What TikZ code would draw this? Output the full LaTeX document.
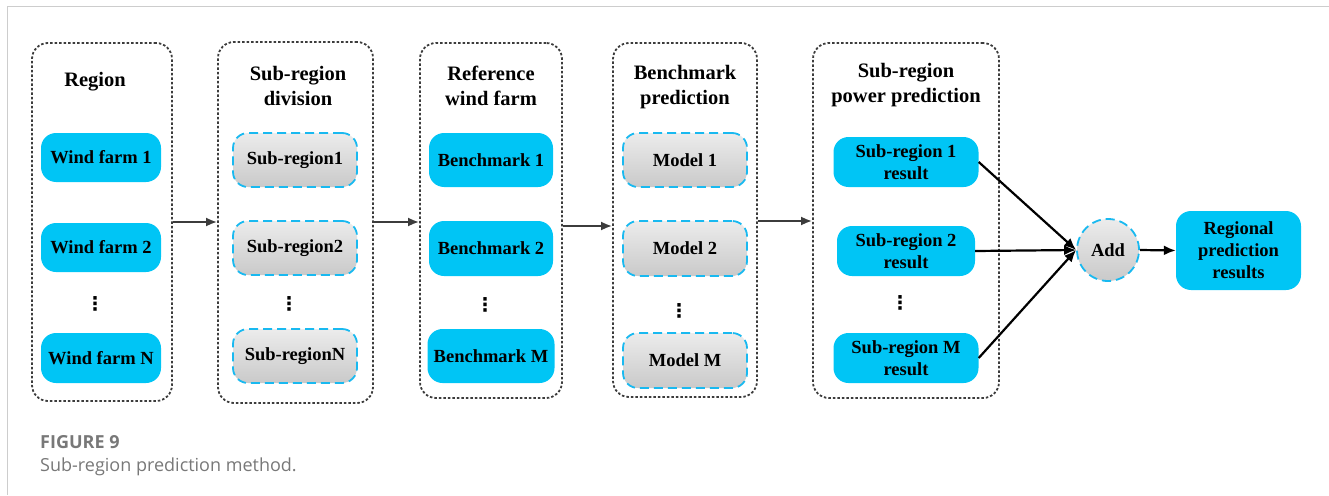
\documentclass[tikz,border=0pt]{standalone}
\usepackage{fontspec}
\setmainfont{Liberation Serif}
\newfontfamily\capfont{Open Sans}
\newfontfamily\symfont{DejaVu Sans}
\usetikzlibrary{arrows.meta}
\definecolor{boxcyan}{RGB}{0,197,245}
\definecolor{edgecyan}{RGB}{25,185,240}
\definecolor{framegray}{RGB}{205,205,205}
\definecolor{capgray}{RGB}{120,120,120}
\definecolor{dotgray}{RGB}{60,60,60}

\begin{document}
\begin{tikzpicture}
[every node/.style={inner sep=0pt, align=center},
 group/.style={draw=dotgray, line width=1.8pt, dash pattern=on 2.5pt off 2pt, rounded corners=16pt},
 title/.style={font=\fontsize{20.5}{25}\selectfont\bfseries},
 bluebox/.style={fill=boxcyan, rounded corners=15pt, font=\fontsize{18.5}{22}\selectfont\bfseries},
 graybox/.style={top color=gray!15, bottom color=gray!42, draw=edgecyan, line width=1.8pt, dash pattern=on 9pt off 5pt, rounded corners=15pt, font=\fontsize{18.5}{22}\selectfont\bfseries},
 dots/.style={font=\symfont\fontsize{19}{19}\selectfont\bfseries},
 flow/.style={draw=dotgray, line width=2pt, -{Latex[length=11pt,width=9pt]}},
 sum/.style={draw=black, line width=2.2pt, -{Latex[length=12pt,width=10pt]}}]
\useasboundingbox (0pt,0pt) rectangle (1329pt,-495pt);
\draw [color=framegray, line width=1pt] (1329pt,-7pt) -- (7pt,-7pt) -- (7pt,-495pt);
% groups
\node (g1) [group, minimum width=140pt, minimum height=358pt] at (102pt, -222pt) {};
\node (g2) [group, minimum width=155pt, minimum height=361pt] at (295.5pt, -222.5pt) {};
\node (g3) [group, minimum width=142pt, minimum height=355pt] at (491pt, -220.5pt) {};
\node (g4) [group, minimum width=144pt, minimum height=354pt] at (685pt, -220pt) {};
\node (g5) [group, minimum width=186pt, minimum height=355pt] at (906pt, -220.5pt) {};
\node (t1) [title] at (95pt, -82pt) {Region};
\node (t2) [title] at (298pt, -86pt) {Sub-region\\division};
\node (t3) [title] at (491pt, -86pt) {Reference\\wind farm};
\node (t4) [title] at (685pt, -87pt) {Benchmark\\prediction};
\node (t5) [title] at (906pt, -85pt) {Sub-region\\power prediction};
% region
\node (w1) [bluebox, minimum width=120pt, minimum height=49pt] at (101pt, -157.5pt) {Wind farm 1};
\node (w2) [bluebox, minimum width=120pt, minimum height=49pt] at (101pt, -247.5pt) {Wind farm 2};
\node (d1) [dots] at (95pt, -304pt) {⋮};
\node (w3) [bluebox, minimum width=120pt, minimum height=50pt] at (101pt, -358pt) {Wind farm N};
% sub-regions
\node (s1) [graybox, minimum width=124pt, minimum height=54pt] at (295pt, -160pt) {Sub-region1};
\node (s2) [graybox, minimum width=124pt, minimum height=54pt] at (295pt, -248pt) {Sub-region2};
\node (d2) [dots] at (289pt, -304pt) {⋮};
\node (s3) [graybox, minimum width=124pt, minimum height=54pt] at (295pt, -356pt) {Sub-regionN};
% benchmarks
\node (b1) [bluebox, minimum width=124pt, minimum height=54pt] at (491pt, -160pt) {Benchmark 1};
\node (b2) [bluebox, minimum width=124pt, minimum height=55pt] at (491pt, -248.5pt) {Benchmark 2};
\node (d3) [dots] at (485pt, -305pt) {⋮};
\node (b3) [bluebox, minimum width=127pt, minimum height=54pt] at (491pt, -356pt) {Benchmark M};
% models
\node (m1) [graybox, minimum width=124pt, minimum height=54pt] at (685pt, -160pt) {Model 1};
\node (m2) [graybox, minimum width=124pt, minimum height=55pt] at (685pt, -248.5pt) {Model 2};
\node (d4) [dots] at (679pt, -311pt) {⋮};
\node (m3) [graybox, minimum width=124pt, minimum height=55pt] at (685pt, -360.5pt) {Model M};
% results
\node (r1) [bluebox, minimum width=145pt, minimum height=50pt] at (906pt, -162pt) {Sub-region 1\\result};
\node (r2) [bluebox, minimum width=138pt, minimum height=50pt] at (906pt, -251pt) {Sub-region 2\\result};
\node (d5) [dots] at (900pt, -303pt) {⋮};
\node (r3) [bluebox, minimum width=145pt, minimum height=50pt] at (906pt, -358pt) {Sub-region M\\result};
\node (add) [circle, graybox, minimum size=62pt] at (1108pt, -250pt) {Add};
\node (out) [bluebox, minimum width=125pt, minimum height=79pt] at (1238.5pt, -250.5pt) {Regional\\prediction\\results};
% caption
\node (cap1) [anchor=base west, text=capgray, font=\capfont\fontsize{18}{20}\selectfont\bfseries] at (40pt, -448pt) {FIGURE 9};
\node (cap2) [anchor=base west, text=capgray, font=\capfont\fontsize{18}{20}\selectfont] at (40pt, -471pt) {Sub-region prediction method.};
% connectors
\draw [flow] (g1.east |- 0pt,-222pt) -- (g2.west |- 0pt,-222pt);
\draw [flow] (g2.east |- 0pt,-222pt) -- (g3.west |- 0pt,-222pt);
\draw [flow] (g3.east |- 0pt,-226pt) -- (g4.west |- 0pt,-226pt);
\draw [flow] (g4.east |- 0pt,-221pt) -- (g5.west |- 0pt,-221pt);
\draw [sum] (r1.east) -- (add.west);
\draw [sum] (r2.east) -- (add.west);
\draw [sum] (r3.east) -- (add.west);
\draw [sum] (add.east) -- (out.west);
\end{tikzpicture}
\end{document}
